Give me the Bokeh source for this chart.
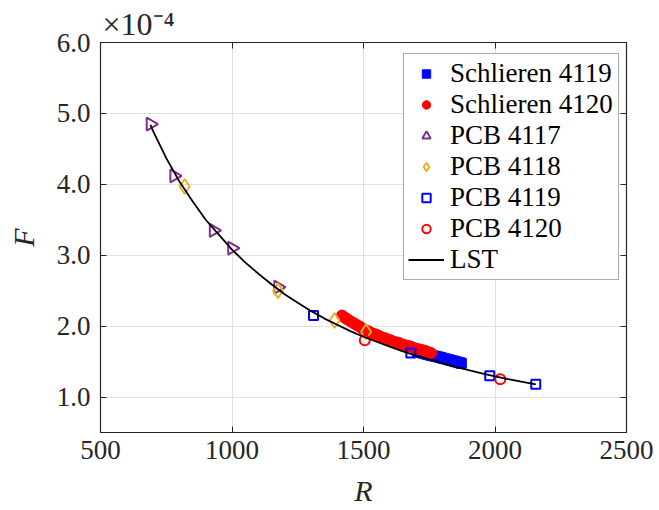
import numpy as np
from bokeh.plotting import figure
from bokeh.models import (Legend, LegendItem, Title, LinearAxis, FixedTicker,
                          NumeralTickFormatter, CustomJSTickFormatter, ColumnDataSource)
from bokeh.embed import file_html
from bokeh.resources import INLINE

# ---------------- data (F in units of 1e-4) ----------------
schl4119_R = [1705, 1715, 1725, 1735, 1745, 1755, 1765, 1775, 1785, 1795, 1805,
              1815, 1825, 1835, 1845, 1855, 1865, 1872]
schl4119_F = [1.64, 1.63, 1.62, 1.61, 1.60, 1.59, 1.58, 1.575, 1.565, 1.555, 1.545,
              1.535, 1.525, 1.515, 1.505, 1.495, 1.485, 1.475]

schl4120_R = [1418, 1425, 1433, 1441, 1450, 1459, 1468, 1477, 1487, 1497, 1507,
              1517, 1527, 1538, 1549, 1560, 1571, 1582, 1593, 1604, 1615, 1626,
              1637, 1648, 1659, 1670, 1681, 1692, 1703, 1714, 1725, 1736, 1747, 1757]
schl4120_F = [2.15, 2.13, 2.11, 2.09, 2.07, 2.05, 2.03, 2.01, 1.99, 1.96, 1.94,
              1.93, 1.91, 1.89, 1.88, 1.86, 1.84, 1.83, 1.81, 1.80, 1.78, 1.77,
              1.76, 1.74, 1.73, 1.72, 1.71, 1.69, 1.68, 1.67, 1.66, 1.65, 1.63, 1.62]

pcb4117_R = [690, 780, 930, 1000, 1175]
pcb4117_F = [4.85, 4.12, 3.35, 3.10, 2.55]

pcb4118_R = [820, 1175, 1390, 1510]
pcb4118_F = [3.97, 2.50, 2.08, 1.92]

pcb4119_R = [1310, 1680, 1980, 2155]
pcb4119_F = [2.15, 1.62, 1.30, 1.18]

pcb4120_R = [1505, 2020]
pcb4120_F = [1.80, 1.25]

lst_R = [690, 700, 750, 800, 850, 900, 950, 1000, 1050, 1100, 1150, 1200, 1250,
         1300, 1350, 1400, 1450, 1500, 1550, 1600, 1650, 1700, 1750, 1800, 1850,
         1900, 1950, 2000, 2050, 2100, 2155]
lst_F = [4.84, 4.75, 4.37, 4.04, 3.76, 3.50, 3.29, 3.08, 2.90, 2.74, 2.59, 2.45, 2.33,
         2.215, 2.11, 2.02, 1.93, 1.85, 1.78, 1.71, 1.645, 1.585, 1.53, 1.475, 1.424,
         1.378, 1.335, 1.293, 1.254, 1.217, 1.18]

x_ticks = [500, 1000, 1500, 2000, 2500]
y_ticks = [1.0, 2.0, 3.0, 4.0, 5.0, 6.0]

FONT = "Liberation Serif"
TXT = "#262626"

p = figure(width=659, height=510, x_range=(500, 2500), y_range=(0.5, 6.0),
           output_backend="svg", toolbar_location=None,
           min_border_left=100, min_border_right=33, min_border_top=42,
           min_border_bottom=78)
p.background_fill_color = "white"
p.border_fill_color = "white"
p.outline_line_color = TXT
p.outline_line_width = 1.2

# main axes
for ax in (p.xaxis[0], p.yaxis[0]):
    ax.major_tick_in = 6
    ax.major_tick_out = 0
    ax.minor_tick_line_color = None
    ax.axis_line_color = TXT
    ax.major_tick_line_color = TXT
    ax.major_label_text_font = FONT
    ax.major_label_text_font_size = "27px"
    ax.major_label_text_color = TXT
    ax.axis_label_text_font = FONT
    ax.axis_label_text_font_style = "italic"
    ax.axis_label_text_font_size = "30px"
    ax.axis_label_text_color = TXT
p.xaxis[0].ticker = FixedTicker(ticks=x_ticks)
p.xaxis[0].formatter = NumeralTickFormatter(format="0")
p.xaxis[0].major_label_standoff = 8
p.xaxis[0].axis_label = "R"
p.xaxis[0].axis_label_standoff = 12
p.yaxis[0].ticker = FixedTicker(ticks=y_ticks)
p.yaxis[0].formatter = NumeralTickFormatter(format="0.0")
p.yaxis[0].major_label_standoff = 10
p.yaxis[0].axis_label = "F"
p.yaxis[0].axis_label_standoff = 14

# box ticks on right/top
blank = CustomJSTickFormatter(code="return ''")
rax = LinearAxis(ticker=FixedTicker(ticks=y_ticks), formatter=blank,
                 major_tick_in=6, major_tick_out=0, minor_tick_line_color=None,
                 axis_line_color=TXT, major_tick_line_color=TXT, major_label_standoff=0)
tax = LinearAxis(ticker=FixedTicker(ticks=x_ticks), formatter=blank,
                 major_tick_in=6, major_tick_out=0, minor_tick_line_color=None,
                 axis_line_color=TXT, major_tick_line_color=TXT, major_label_standoff=0)
p.add_layout(rax, "right")
p.add_layout(tax, "above")

# exponent of the y axis
p.add_layout(Title(text="×10⁻⁴", align="left", offset=2, standoff=1,
                   text_font=FONT, text_font_size="32px", text_font_style="normal",
                   text_color=TXT), "above")

p.xgrid.ticker = FixedTicker(ticks=x_ticks)
p.ygrid.ticker = FixedTicker(ticks=y_ticks)
p.grid.grid_line_color = "#e0e0e0"
p.grid.grid_line_width = 1

# glyphs
r_s19 = p.scatter(schl4119_R, schl4119_F, marker="square", size=10,
                  fill_color="#0000ff", line_color="#0000ff")
r_s20 = p.scatter(schl4120_R, schl4120_F, marker="circle", size=11,
                  fill_color="#ff0000", line_color="#ff0000")
src17 = ColumnDataSource(dict(R=pcb4117_R, F=pcb4117_F,
                              ang=[-np.pi / 2] * len(pcb4117_R)))
r_17 = p.scatter("R", "F", source=src17, marker="triangle", size=13, angle="ang",
                 fill_color=None, line_color="#7e2f8e", line_width=2)
r_18 = p.scatter(pcb4118_R, pcb4118_F, marker="diamond", size=15,
                 fill_color=None, line_color="#edb120", line_width=2)
r_19 = p.scatter(pcb4119_R, pcb4119_F, marker="square", size=9,
                 fill_color=None, line_color="#0000ff", line_width=2)
r_20 = p.scatter(pcb4120_R, pcb4120_F, marker="circle", size=10,
                 fill_color=None, line_color="#ff0000", line_width=2)
r_lst = p.line(lst_R, lst_F, line_color="black", line_width=1.8)

legend = Legend(items=[
    LegendItem(label="Schlieren 4119", renderers=[r_s19]),
    LegendItem(label="Schlieren 4120", renderers=[r_s20]),
    LegendItem(label="PCB 4117", renderers=[r_17]),
    LegendItem(label="PCB 4118", renderers=[r_18]),
    LegendItem(label="PCB 4119", renderers=[r_19]),
    LegendItem(label="PCB 4120", renderers=[r_20]),
    LegendItem(label="LST", renderers=[r_lst]),
], location=(303, 152))
legend.label_text_font = FONT
legend.label_text_font_size = "27px"
legend.label_text_color = "black"
legend.glyph_width = 36
legend.glyph_height = 21
legend.label_height = 31
legend.label_width = 164
legend.label_standoff = 6
legend.spacing = 0
legend.padding = 4
legend.margin = 0
legend.border_line_color = "#555555"
legend.border_line_width = 1
legend.background_fill_color = "white"
legend.background_fill_alpha = 1
p.add_layout(legend)

open("out.html", "w").write(file_html(p, INLINE))
